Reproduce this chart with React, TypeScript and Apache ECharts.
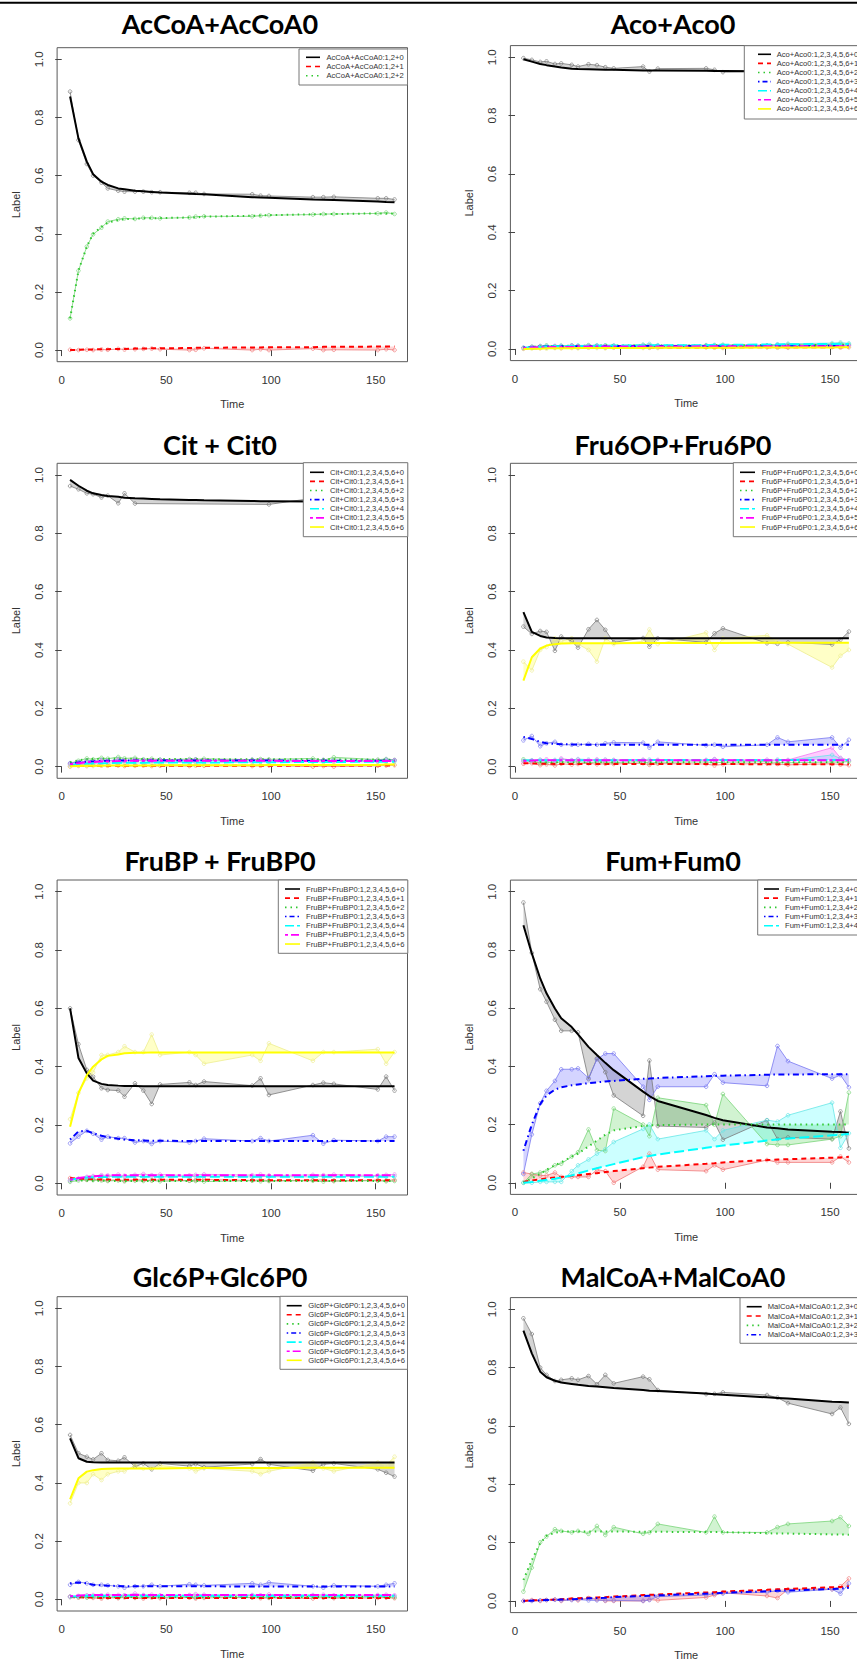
import React, { useEffect, useRef } from "react";
import * as echarts from "echarts";

// ---------------- data ----------------
const TIME = [4, 8, 12, 15, 19, 22, 27, 30, 35, 39, 43, 47, 61, 64, 68, 91, 95, 99, 120, 125, 130, 151, 155, 159];
const X_TICKS = [0, 50, 100, 150];
const Y_TICKS = [0, 0.2, 0.4, 0.6, 0.8, 1.0];

const TITLES = ["AcCoA+AcCoA0", "Aco+Aco0", "Cit + Cit0", "Fru6OP+Fru6P0", "FruBP + FruBP0", "Fum+Fum0", "Glc6P+Glc6P0", "MalCoA+MalCoA0"];
const LEGEND_PREFIXES = ["AcCoA+AcCoA0:1,2", "Aco+Aco0:1,2,3,4,5,6", "Cit+Cit0:1,2,3,4,5,6", "Fru6P+Fru6P0:1,2,3,4,5,6", "FruBP+FruBP0:1,2,3,4,5,6", "Fum+Fum0:1,2,3,4", "Glc6P+Glc6P0:1,2,3,4,5,6", "MalCoA+MalCoA0:1,2,3"];

// AcCoA
const accoaObs0 = [0.889, 0.722, 0.64, 0.6, 0.576, 0.556, 0.548, 0.545, 0.545, 0.545, 0.543, 0.543, 0.541, 0.541, 0.537, 0.536, 0.531, 0.53, 0.526, 0.526, 0.527, 0.522, 0.522, 0.518];
const accoaFit0 = [0.872, 0.728, 0.648, 0.605, 0.579, 0.568, 0.556, 0.553, 0.548, 0.546, 0.544, 0.542, 0.538, 0.537, 0.536, 0.526, 0.525, 0.524, 0.518, 0.517, 0.516, 0.511, 0.509, 0.508];
const accoaObs1 = [0.001, 0.0, 0.001, 0.0, 0.002, 0.001, 0.004, 0.002, 0.003, 0.004, 0.005, 0.003, 0.0, 0.001, 0.006, 0.0, 0.003, 0.0, 0.005, 0.0, 0.001, 0.0, 0.003, 0.0];
const accoaFit1 = [0.0, 0.001, 0.002, 0.002, 0.003, 0.003, 0.004, 0.004, 0.005, 0.005, 0.006, 0.006, 0.007, 0.008, 0.008, 0.009, 0.009, 0.01, 0.01, 0.011, 0.011, 0.012, 0.012, 0.012];
const accoaObs2 = [0.109, 0.273, 0.356, 0.398, 0.421, 0.442, 0.45, 0.453, 0.451, 0.455, 0.455, 0.453, 0.456, 0.459, 0.46, 0.46, 0.462, 0.464, 0.466, 0.468, 0.468, 0.47, 0.473, 0.468];
const accoaFit2 = [0.109, 0.273, 0.356, 0.4, 0.424, 0.438, 0.447, 0.45, 0.452, 0.453, 0.453, 0.454, 0.456, 0.456, 0.459, 0.462, 0.463, 0.464, 0.467, 0.467, 0.468, 0.47, 0.47, 0.47];

// Aco
const acoObs0 = [0.997, 0.991, 0.984, 0.986, 0.977, 0.979, 0.974, 0.968, 0.976, 0.973, 0.966, 0.962, 0.968, 0.951, 0.961, 0.962, 0.957, 0.949, 0.951, 0.95, 0.952, 0.948, 0.95, 0.947];
const acoFit0 = [0.993, 0.985, 0.977, 0.973, 0.968, 0.965, 0.961, 0.96, 0.959, 0.958, 0.957, 0.957, 0.955, 0.955, 0.955, 0.954, 0.953, 0.953, 0.952, 0.952, 0.952, 0.951, 0.951, 0.951];
const acoObs1 = [0.002, 0.004, 0.003, 0.005, 0.004, 0.003, 0.006, 0.004, 0.005, 0.006, 0.004, 0.005, 0.006, 0.004, 0.005, 0.006, 0.005, 0.004, 0.006, 0.005, 0.004, 0.007, 0.005, 0.006];
const acoFit1 = [0.002, 0.002, 0.003, 0.003, 0.003, 0.003, 0.004, 0.004, 0.004, 0.004, 0.004, 0.004, 0.005, 0.005, 0.005, 0.005, 0.005, 0.005, 0.006, 0.006, 0.006, 0.006, 0.006, 0.006];
const acoObs2 = [0.003, 0.008, 0.01, 0.012, 0.009, 0.011, 0.012, 0.01, 0.013, 0.011, 0.012, 0.01, 0.014, 0.012, 0.011, 0.013, 0.012, 0.014, 0.012, 0.013, 0.015, 0.016, 0.018, 0.015];
const acoFit2 = [0.004, 0.007, 0.008, 0.009, 0.01, 0.01, 0.011, 0.011, 0.011, 0.011, 0.012, 0.012, 0.012, 0.012, 0.012, 0.012, 0.013, 0.013, 0.013, 0.013, 0.013, 0.014, 0.014, 0.014];
const acoObs3 = [0.004, 0.006, 0.009, 0.007, 0.01, 0.008, 0.011, 0.009, 0.008, 0.01, 0.009, 0.011, 0.01, 0.008, 0.01, 0.011, 0.009, 0.01, 0.012, 0.014, 0.011, 0.013, 0.01, 0.012];
const acoFit3 = [0.005, 0.007, 0.008, 0.008, 0.009, 0.009, 0.009, 0.009, 0.009, 0.009, 0.009, 0.01, 0.01, 0.01, 0.01, 0.01, 0.01, 0.01, 0.011, 0.011, 0.011, 0.011, 0.011, 0.011];
const acoObs4 = [0.003, 0.006, 0.008, 0.01, 0.009, 0.011, 0.01, 0.012, 0.011, 0.013, 0.012, 0.011, 0.014, 0.017, 0.013, 0.012, 0.014, 0.013, 0.012, 0.016, 0.018, 0.02, 0.022, 0.019];
const acoFit4 = [0.004, 0.006, 0.007, 0.008, 0.009, 0.009, 0.01, 0.01, 0.011, 0.011, 0.011, 0.012, 0.012, 0.012, 0.013, 0.013, 0.014, 0.014, 0.015, 0.015, 0.016, 0.017, 0.017, 0.017];
const acoObs5 = [0.002, 0.005, 0.007, 0.006, 0.008, 0.007, 0.009, 0.008, 0.01, 0.008, 0.009, 0.008, 0.009, 0.01, 0.008, 0.009, 0.01, 0.008, 0.009, 0.01, 0.008, 0.011, 0.009, 0.01];
const acoFit5 = [0.003, 0.005, 0.006, 0.006, 0.007, 0.007, 0.007, 0.008, 0.008, 0.008, 0.008, 0.008, 0.008, 0.008, 0.008, 0.009, 0.009, 0.009, 0.009, 0.009, 0.009, 0.009, 0.009, 0.009];
const acoObs6 = [0.0, 0.001, 0.002, 0.001, 0.003, 0.002, 0.003, 0.002, 0.004, 0.003, 0.002, 0.004, 0.003, 0.004, 0.003, 0.005, 0.004, 0.003, 0.005, 0.004, 0.006, 0.005, 0.007, 0.006];
const acoFit6 = [0.0, 0.001, 0.001, 0.002, 0.002, 0.002, 0.002, 0.003, 0.003, 0.003, 0.003, 0.003, 0.003, 0.004, 0.004, 0.004, 0.004, 0.004, 0.005, 0.005, 0.005, 0.005, 0.006, 0.006];

// Cit
const citObs0 = [0.962, 0.951, 0.937, 0.934, 0.923, 0.929, 0.903, 0.937, 0.902, null, null, null, null, null, null, null, null, 0.899, 0.92, 0.926, 0.91, 0.905, 0.91, 0.9];
const citFit0 = [0.983, 0.963, 0.946, 0.937, 0.931, 0.928, 0.925, 0.922, 0.92, 0.919, 0.918, 0.917, 0.914, 0.914, 0.913, 0.911, 0.91, 0.91, 0.909, 0.909, 0.909, 0.907, 0.907, 0.907];
const citObs1 = [0.0, 0.003, 0.002, 0.005, 0.004, 0.003, 0.004, 0.002, 0.003, 0.004, 0.002, 0.003, 0.002, 0.004, 0.003, 0.002, 0.003, 0.004, 0.0, 0.002, 0.0, 0.003, 0.004, 0.005];
const citFit1 = [0.002, 0.003, 0.003, 0.003, 0.003, 0.003, 0.003, 0.003, 0.003, 0.003, 0.003, 0.003, 0.003, 0.003, 0.003, 0.003, 0.003, 0.003, 0.004, 0.004, 0.004, 0.004, 0.004, 0.004];
const citObs2 = [0.01, 0.02, 0.028, 0.025, 0.03, 0.027, 0.033, 0.028, 0.03, 0.025, 0.027, 0.024, 0.026, 0.025, 0.027, 0.024, 0.026, 0.025, 0.028, 0.022, 0.032, 0.024, 0.026, 0.023];
const citFit2 = [0.015, 0.022, 0.025, 0.026, 0.027, 0.027, 0.027, 0.027, 0.027, 0.026, 0.026, 0.026, 0.026, 0.026, 0.025, 0.025, 0.025, 0.025, 0.025, 0.025, 0.025, 0.024, 0.024, 0.024];
const citObs3 = [0.012, 0.015, 0.02, 0.018, 0.022, 0.02, 0.024, 0.021, 0.023, 0.022, 0.021, 0.023, 0.022, 0.024, 0.021, 0.023, 0.022, 0.021, 0.02, 0.023, 0.021, 0.019, 0.024, 0.022];
const citFit3 = [0.01, 0.014, 0.017, 0.018, 0.02, 0.02, 0.021, 0.021, 0.021, 0.021, 0.021, 0.021, 0.021, 0.021, 0.021, 0.021, 0.021, 0.021, 0.02, 0.02, 0.02, 0.02, 0.02, 0.02];
const citObs4 = [0.005, 0.008, 0.01, 0.012, 0.011, 0.013, 0.012, 0.014, 0.013, 0.012, 0.014, 0.013, 0.015, 0.014, 0.013, 0.015, 0.016, 0.015, 0.017, 0.015, 0.018, 0.016, 0.02, 0.018];
const citFit4 = [0.006, 0.008, 0.01, 0.011, 0.012, 0.012, 0.013, 0.013, 0.013, 0.013, 0.014, 0.014, 0.014, 0.014, 0.014, 0.015, 0.015, 0.015, 0.016, 0.016, 0.016, 0.017, 0.017, 0.017];
const citObs5 = [0.008, 0.012, 0.015, 0.017, 0.019, 0.018, 0.022, 0.02, 0.021, 0.02, 0.022, 0.021, 0.02, 0.022, 0.021, 0.02, 0.022, 0.021, 0.019, 0.02, 0.018, 0.02, 0.019, 0.021];
const citFit5 = [0.008, 0.012, 0.015, 0.016, 0.018, 0.018, 0.019, 0.02, 0.02, 0.02, 0.02, 0.02, 0.02, 0.02, 0.02, 0.02, 0.02, 0.02, 0.019, 0.019, 0.019, 0.019, 0.019, 0.019];
const citObs6 = [0.0, 0.002, 0.003, 0.002, 0.004, 0.003, 0.005, 0.004, 0.003, 0.005, 0.004, 0.006, 0.005, 0.004, 0.006, 0.005, 0.006, 0.007, 0.006, 0.005, 0.007, 0.006, 0.008, 0.007];
const citFit6 = [0.001, 0.002, 0.003, 0.003, 0.003, 0.004, 0.004, 0.004, 0.004, 0.004, 0.004, 0.005, 0.005, 0.005, 0.005, 0.005, 0.005, 0.006, 0.006, 0.006, 0.006, 0.006, 0.007, 0.007];

// Fru6P
const fru6Obs0 = [0.48, 0.455, 0.465, 0.462, 0.397, 0.446, 0.43, 0.408, 0.471, 0.503, 0.469, 0.426, 0.441, 0.411, 0.44, 0.426, 0.457, 0.474, 0.423, 0.421, 0.426, 0.419, 0.435, 0.463];
const fru6Fit0 = [0.53, 0.462, 0.448, 0.443, 0.441, 0.44, 0.44, 0.44, 0.44, 0.44, 0.44, 0.44, 0.44, 0.44, 0.44, 0.44, 0.44, 0.44, 0.44, 0.44, 0.44, 0.44, 0.44, 0.44];
const fru6Obs1 = [0.01, 0.012, 0.005, 0.008, 0.004, 0.01, 0.007, 0.009, 0.012, 0.008, 0.01, 0.009, 0.012, 0.006, 0.01, 0.009, 0.004, 0.008, 0.011, 0.009, 0.006, 0.01, 0.007, 0.005];
const fru6Fit1 = [0.012, 0.011, 0.01, 0.01, 0.009, 0.009, 0.009, 0.009, 0.009, 0.009, 0.009, 0.009, 0.009, 0.009, 0.009, 0.009, 0.009, 0.009, 0.008, 0.008, 0.008, 0.008, 0.008, 0.008];
const fru6Obs2 = [0.025, 0.02, 0.012, 0.015, 0.014, 0.016, 0.015, 0.017, 0.013, 0.016, 0.015, 0.014, 0.017, 0.012, 0.015, 0.016, 0.013, 0.015, 0.017, 0.014, 0.013, 0.016, 0.015, 0.018];
const fru6Fit2 = [0.022, 0.018, 0.016, 0.015, 0.015, 0.015, 0.015, 0.015, 0.015, 0.015, 0.015, 0.015, 0.015, 0.015, 0.015, 0.015, 0.015, 0.015, 0.015, 0.015, 0.015, 0.015, 0.015, 0.015];
const fru6Obs3 = [0.09, 0.105, 0.07, 0.08, 0.085, 0.075, 0.075, 0.075, 0.078, 0.075, 0.08, 0.083, 0.082, 0.065, 0.085, 0.073, 0.075, 0.068, 0.075, 0.1, 0.085, 0.1, 0.065, 0.092];
const fru6Fit3 = [0.102, 0.095, 0.085, 0.08, 0.078, 0.077, 0.076, 0.076, 0.075, 0.075, 0.075, 0.075, 0.075, 0.075, 0.075, 0.075, 0.075, 0.075, 0.075, 0.075, 0.075, 0.075, 0.075, 0.075];
const fru6Obs4 = [0.02, 0.022, 0.024, 0.02, 0.023, 0.025, 0.022, 0.026, 0.024, 0.022, 0.024, 0.023, 0.022, 0.024, 0.021, 0.023, 0.025, 0.022, 0.02, 0.024, 0.022, 0.04, 0.028, 0.022];
const fru6Fit4 = [0.021, 0.022, 0.022, 0.022, 0.022, 0.022, 0.022, 0.022, 0.022, 0.022, 0.022, 0.022, 0.023, 0.023, 0.023, 0.023, 0.023, 0.023, 0.023, 0.023, 0.023, 0.023, 0.023, 0.023];
const fru6Obs5 = [0.018, 0.02, 0.022, 0.025, 0.02, 0.028, 0.022, 0.024, 0.021, 0.025, 0.023, 0.022, 0.024, 0.02, 0.023, 0.022, 0.026, 0.022, 0.024, 0.021, 0.023, 0.065, 0.03, 0.022];
const fru6Fit5 = [0.02, 0.021, 0.022, 0.022, 0.022, 0.022, 0.022, 0.022, 0.022, 0.022, 0.022, 0.022, 0.022, 0.022, 0.022, 0.022, 0.022, 0.022, 0.022, 0.022, 0.022, 0.022, 0.022, 0.022];
const fru6Obs6 = [0.36, 0.33, 0.4, 0.41, 0.44, 0.43, 0.44, 0.42, 0.4, 0.36, 0.44, 0.42, 0.43, 0.47, 0.42, 0.46, 0.4, 0.44, 0.45, 0.43, 0.42, 0.34, 0.38, 0.4];
const fru6Fit6 = [0.295, 0.375, 0.405, 0.415, 0.42, 0.422, 0.423, 0.423, 0.423, 0.423, 0.423, 0.423, 0.424, 0.424, 0.424, 0.424, 0.424, 0.424, 0.425, 0.425, 0.425, 0.425, 0.425, 0.425];

// FruBP
const frubpObs0 = [0.6, 0.477, 0.389, 0.366, 0.326, 0.32, 0.318, 0.297, 0.343, 0.318, 0.272, 0.339, 0.346, 0.337, 0.349, 0.335, 0.36, 0.303, 0.337, 0.345, 0.341, 0.322, 0.366, 0.318];
const frubpFit0 = [0.6, 0.43, 0.377, 0.352, 0.341, 0.337, 0.335, 0.334, 0.334, 0.333, 0.333, 0.333, 0.333, 0.333, 0.333, 0.333, 0.333, 0.333, 0.333, 0.333, 0.333, 0.333, 0.333, 0.333];
const frubpObs1 = [0.018, 0.015, 0.012, 0.014, 0.013, 0.01, 0.012, 0.009, 0.013, 0.011, 0.01, 0.012, 0.009, 0.011, 0.013, 0.01, 0.012, 0.009, 0.011, 0.012, 0.008, 0.011, 0.01, 0.012];
const frubpFit1 = [0.018, 0.016, 0.015, 0.014, 0.013, 0.013, 0.012, 0.012, 0.012, 0.012, 0.012, 0.012, 0.012, 0.012, 0.012, 0.011, 0.011, 0.011, 0.011, 0.011, 0.011, 0.011, 0.011, 0.011];
const frubpObs2 = [0.005, 0.01, 0.012, 0.011, 0.01, 0.008, 0.01, 0.007, 0.009, 0.008, 0.01, 0.007, 0.009, 0.008, 0.006, 0.009, 0.007, 0.008, 0.009, 0.006, 0.008, 0.009, 0.007, 0.008];
const frubpFit2 = [0.008, 0.01, 0.01, 0.009, 0.009, 0.008, 0.008, 0.008, 0.008, 0.008, 0.008, 0.008, 0.008, 0.008, 0.008, 0.008, 0.008, 0.008, 0.008, 0.008, 0.008, 0.008, 0.008, 0.008];
const frubpObs3 = [0.137, 0.16, 0.18, 0.17, 0.15, 0.16, 0.155, 0.155, 0.14, 0.145, 0.135, 0.145, 0.14, 0.145, 0.153, 0.145, 0.155, 0.145, 0.165, 0.136, 0.148, 0.145, 0.16, 0.16];
const frubpFit3 = [0.15, 0.178, 0.18, 0.172, 0.163, 0.158, 0.153, 0.15, 0.148, 0.147, 0.146, 0.146, 0.145, 0.145, 0.145, 0.145, 0.145, 0.145, 0.145, 0.145, 0.145, 0.145, 0.145, 0.145];
const frubpObs4 = [0.01, 0.015, 0.02, 0.022, 0.024, 0.023, 0.025, 0.022, 0.024, 0.023, 0.025, 0.022, 0.024, 0.023, 0.025, 0.022, 0.024, 0.023, 0.022, 0.024, 0.023, 0.025, 0.022, 0.024];
const frubpFit4 = [0.012, 0.017, 0.02, 0.021, 0.022, 0.022, 0.023, 0.023, 0.023, 0.023, 0.023, 0.023, 0.023, 0.023, 0.023, 0.023, 0.023, 0.023, 0.023, 0.023, 0.023, 0.023, 0.023, 0.023];
const frubpObs5 = [0.01, 0.015, 0.022, 0.025, 0.028, 0.027, 0.03, 0.026, 0.029, 0.032, 0.028, 0.03, 0.027, 0.029, 0.031, 0.028, 0.03, 0.027, 0.029, 0.028, 0.03, 0.027, 0.029, 0.03];
const frubpFit5 = [0.012, 0.018, 0.022, 0.024, 0.026, 0.027, 0.028, 0.028, 0.028, 0.028, 0.028, 0.028, 0.028, 0.028, 0.028, 0.028, 0.028, 0.028, 0.028, 0.028, 0.028, 0.028, 0.028, 0.028];
const frubpObs6 = [0.22, 0.31, 0.36, 0.38, 0.44, 0.44, 0.45, 0.47, 0.45, 0.45, 0.51, 0.44, 0.45, 0.44, 0.41, 0.44, 0.42, 0.48, 0.42, 0.45, 0.45, 0.46, 0.41, 0.45];
const frubpFit6 = [0.194, 0.309, 0.371, 0.4, 0.425, 0.437, 0.442, 0.446, 0.448, 0.448, 0.449, 0.449, 0.449, 0.449, 0.449, 0.449, 0.449, 0.449, 0.449, 0.449, 0.449, 0.449, 0.449, 0.449];

// Fum
const fumObs0 = [0.963, 0.79, 0.665, 0.622, 0.56, 0.522, 0.522, 0.517, 0.356, 0.427, 0.38, 0.3, 0.23, 0.42, 0.195, 0.19, 0.207, 0.148, 0.215, 0.15, 0.156, 0.15, 0.245, 0.118];
const fumFit0 = [0.885, 0.788, 0.702, 0.651, 0.599, 0.565, 0.535, 0.51, 0.467, 0.439, 0.412, 0.387, 0.313, 0.298, 0.281, 0.233, 0.223, 0.215, 0.19, 0.187, 0.183, 0.175, 0.174, 0.172];
const fumObs1 = [0.035, 0.03, 0.025, 0.025, 0.035, 0.02, 0.02, 0.02, 0.02, 0.045, 0.04, 0.0, 0.055, 0.1, 0.045, 0.04, 0.06, 0.045, 0.078, 0.07, 0.07, 0.07, 0.09, 0.07];
const fumFit1 = [0.003, 0.008, 0.012, 0.015, 0.018, 0.02, 0.024, 0.026, 0.03, 0.033, 0.037, 0.04, 0.05, 0.052, 0.055, 0.065, 0.067, 0.07, 0.078, 0.08, 0.081, 0.086, 0.087, 0.089];
const fumObs2 = [0.0, 0.03, 0.035, 0.04, 0.06, 0.065, 0.09, 0.105, 0.183, 0.112, 0.109, 0.255, 0.2, 0.16, 0.292, 0.267, 0.2, 0.305, 0.133, 0.13, 0.13, 0.15, 0.16, 0.31];
const fumFit2 = [0.0, 0.015, 0.03, 0.045, 0.06, 0.07, 0.09, 0.1, 0.125, 0.145, 0.165, 0.18, 0.195, 0.197, 0.198, 0.2, 0.2, 0.2, 0.2, 0.2, 0.2, 0.2, 0.2, 0.2];
const fumObs3 = [0.03, 0.166, 0.273, 0.316, 0.35, 0.39, 0.39, 0.393, 0.36, 0.424, 0.444, 0.444, 0.33, 0.285, 0.33, 0.33, 0.373, 0.344, 0.333, 0.47, 0.418, 0.358, 0.37, 0.328];
const fumFit3 = [0.11, 0.2, 0.27, 0.3, 0.32, 0.328, 0.335, 0.338, 0.342, 0.345, 0.348, 0.35, 0.357, 0.358, 0.36, 0.366, 0.367, 0.368, 0.371, 0.372, 0.372, 0.373, 0.373, 0.373];
const fumObs4 = [0.0, 0.0, 0.003, 0.003, 0.003, 0.003, 0.04, 0.06, 0.08, 0.1, 0.115, 0.14, 0.185, 0.2, 0.15, 0.18, 0.15, 0.18, 0.215, 0.21, 0.232, 0.275, 0.12, 0.17];
const fumFit4 = [0.0, 0.003, 0.007, 0.01, 0.014, 0.018, 0.025, 0.032, 0.042, 0.05, 0.057, 0.064, 0.088, 0.092, 0.097, 0.12, 0.124, 0.128, 0.145, 0.149, 0.152, 0.163, 0.165, 0.168];

// Glc6P
const glcObs0 = [0.565, 0.502, 0.49, 0.481, 0.502, 0.479, 0.476, 0.488, 0.456, 0.467, 0.447, 0.467, 0.458, 0.465, 0.454, 0.465, 0.482, 0.464, 0.442, 0.464, 0.467, 0.447, 0.435, 0.422];
const glcFit0 = [0.553, 0.485, 0.473, 0.471, 0.47, 0.47, 0.47, 0.47, 0.47, 0.47, 0.47, 0.47, 0.47, 0.47, 0.47, 0.47, 0.47, 0.47, 0.47, 0.47, 0.47, 0.47, 0.47, 0.47];
const glcObs1 = [0.008, 0.006, 0.008, 0.005, 0.003, 0.006, 0.004, 0.007, 0.005, 0.003, 0.006, 0.004, 0.006, 0.003, 0.005, 0.006, 0.004, 0.005, 0.003, 0.006, 0.004, 0.005, 0.006, 0.004];
const glcFit1 = [0.008, 0.007, 0.006, 0.006, 0.005, 0.005, 0.005, 0.005, 0.005, 0.005, 0.005, 0.005, 0.005, 0.005, 0.005, 0.005, 0.005, 0.005, 0.005, 0.005, 0.005, 0.005, 0.005, 0.005];
const glcObs2 = [0.01, 0.008, 0.006, 0.009, 0.007, 0.008, 0.006, 0.009, 0.007, 0.008, 0.01, 0.007, 0.008, 0.006, 0.009, 0.007, 0.008, 0.006, 0.009, 0.008, 0.007, 0.009, 0.008, 0.007];
const glcFit2 = [0.009, 0.008, 0.008, 0.008, 0.008, 0.008, 0.008, 0.008, 0.008, 0.008, 0.008, 0.008, 0.008, 0.008, 0.008, 0.008, 0.008, 0.008, 0.008, 0.008, 0.008, 0.008, 0.008, 0.008];
const glcObs3 = [0.05, 0.06, 0.055, 0.05, 0.05, 0.048, 0.045, 0.04, 0.045, 0.045, 0.05, 0.045, 0.052, 0.05, 0.048, 0.055, 0.05, 0.058, 0.045, 0.04, 0.048, 0.045, 0.05, 0.055];
const glcFit3 = [0.055, 0.058, 0.055, 0.05, 0.048, 0.047, 0.046, 0.045, 0.045, 0.045, 0.045, 0.045, 0.045, 0.045, 0.045, 0.044, 0.044, 0.044, 0.044, 0.044, 0.044, 0.044, 0.044, 0.044];
const glcObs4 = [0.008, 0.01, 0.012, 0.011, 0.013, 0.012, 0.011, 0.013, 0.012, 0.014, 0.011, 0.012, 0.013, 0.011, 0.012, 0.014, 0.012, 0.011, 0.013, 0.012, 0.011, 0.013, 0.012, 0.011];
const glcFit4 = [0.009, 0.011, 0.012, 0.012, 0.012, 0.012, 0.012, 0.012, 0.012, 0.012, 0.012, 0.012, 0.012, 0.012, 0.012, 0.012, 0.012, 0.012, 0.012, 0.012, 0.012, 0.012, 0.012, 0.012];
const glcObs5 = [0.01, 0.012, 0.014, 0.015, 0.013, 0.016, 0.015, 0.014, 0.02, 0.015, 0.016, 0.014, 0.015, 0.018, 0.016, 0.015, 0.014, 0.017, 0.015, 0.016, 0.014, 0.015, 0.016, 0.014];
const glcFit5 = [0.011, 0.013, 0.014, 0.015, 0.015, 0.015, 0.015, 0.015, 0.015, 0.015, 0.015, 0.015, 0.015, 0.015, 0.015, 0.015, 0.015, 0.015, 0.015, 0.015, 0.015, 0.015, 0.015, 0.015];
const glcObs6 = [0.33, 0.4, 0.4, 0.43, 0.41, 0.43, 0.44, 0.44, 0.46, 0.45, 0.45, 0.46, 0.45, 0.44, 0.45, 0.44, 0.43, 0.44, 0.47, 0.45, 0.44, 0.47, 0.46, 0.49];
const glcFit6 = [0.344, 0.416, 0.439, 0.444, 0.448, 0.449, 0.45, 0.45, 0.45, 0.45, 0.45, 0.45, 0.451, 0.451, 0.451, 0.451, 0.451, 0.451, 0.452, 0.452, 0.452, 0.452, 0.452, 0.452];

// MalCoA
const malObs0 = [0.969, 0.915, 0.8, 0.775, 0.754, 0.758, 0.763, 0.758, 0.771, 0.743, 0.775, 0.746, 0.769, 0.76, 0.723, 0.709, 0.71, 0.715, 0.706, 0.697, 0.678, 0.641, 0.663, 0.607];
const malFit0 = [0.927, 0.849, 0.786, 0.767, 0.755, 0.749, 0.744, 0.741, 0.737, 0.735, 0.733, 0.73, 0.723, 0.721, 0.72, 0.711, 0.709, 0.707, 0.698, 0.696, 0.694, 0.683, 0.682, 0.68];
const malObs1 = [0.0, 0.003, 0.0, 0.003, 0.005, 0.0, 0.005, 0.002, 0.01, 0.005, 0.0, 0.0, 0.0, 0.005, 0.002, 0.012, 0.02, 0.028, 0.017, 0.01, 0.04, 0.04, 0.05, 0.077];
const malFit1 = [0.0, 0.002, 0.003, 0.004, 0.005, 0.006, 0.008, 0.009, 0.011, 0.012, 0.013, 0.015, 0.02, 0.021, 0.022, 0.029, 0.03, 0.032, 0.038, 0.04, 0.041, 0.047, 0.048, 0.05];
const malObs2 = [0.032, 0.114, 0.201, 0.221, 0.246, 0.24, 0.235, 0.24, 0.23, 0.257, 0.226, 0.253, 0.23, 0.235, 0.264, 0.235, 0.289, 0.235, 0.235, 0.253, 0.264, 0.274, 0.287, 0.257];
const malFit2 = [0.072, 0.14, 0.198, 0.223, 0.234, 0.238, 0.238, 0.238, 0.238, 0.238, 0.238, 0.238, 0.237, 0.237, 0.237, 0.236, 0.236, 0.236, 0.232, 0.231, 0.231, 0.228, 0.228, 0.227];
const malObs3 = [0.0, 0.0, 0.002, 0.003, 0.004, 0.002, 0.003, 0.005, 0.002, 0.002, 0.002, 0.002, 0.0, 0.003, 0.015, 0.02, 0.025, 0.025, 0.03, 0.035, 0.03, 0.04, 0.025, 0.06];
const malFit3 = [0.0, 0.001, 0.002, 0.003, 0.004, 0.005, 0.006, 0.007, 0.009, 0.01, 0.011, 0.013, 0.017, 0.018, 0.019, 0.025, 0.026, 0.028, 0.033, 0.035, 0.036, 0.041, 0.042, 0.045];

const PANEL_OBS: (number | null)[][][] = [
  [accoaObs0, accoaObs1, accoaObs2],
  [acoObs0, acoObs1, acoObs2, acoObs3, acoObs4, acoObs5, acoObs6],
  [citObs0, citObs1, citObs2, citObs3, citObs4, citObs5, citObs6],
  [fru6Obs0, fru6Obs1, fru6Obs2, fru6Obs3, fru6Obs4, fru6Obs5, fru6Obs6],
  [frubpObs0, frubpObs1, frubpObs2, frubpObs3, frubpObs4, frubpObs5, frubpObs6],
  [fumObs0, fumObs1, fumObs2, fumObs3, fumObs4],
  [glcObs0, glcObs1, glcObs2, glcObs3, glcObs4, glcObs5, glcObs6],
  [malObs0, malObs1, malObs2, malObs3],
];
const PANEL_FIT: number[][][] = [
  [accoaFit0, accoaFit1, accoaFit2],
  [acoFit0, acoFit1, acoFit2, acoFit3, acoFit4, acoFit5, acoFit6],
  [citFit0, citFit1, citFit2, citFit3, citFit4, citFit5, citFit6],
  [fru6Fit0, fru6Fit1, fru6Fit2, fru6Fit3, fru6Fit4, fru6Fit5, fru6Fit6],
  [frubpFit0, frubpFit1, frubpFit2, frubpFit3, frubpFit4, frubpFit5, frubpFit6],
  [fumFit0, fumFit1, fumFit2, fumFit3, fumFit4],
  [glcFit0, glcFit1, glcFit2, glcFit3, glcFit4, glcFit5, glcFit6],
  [malFit0, malFit1, malFit2, malFit3],
];

// ---------------- styles / layout ----------------
const FIT_COLORS = ["#000000", "#ff0000", "#2ec82e", "#0000ff", "#00ffff", "#ff00ff", "#ffff00"];
const OBS_COLORS = ["#7a7a7a", "#f07878", "#78d478", "#7878f0", "#66e6e6", "#f078f0", "#eeee90"];
const FILL_COLORS = ["rgba(0,0,0,0.17)", "rgba(255,0,0,0.16)", "rgba(0,190,0,0.18)", "rgba(0,0,255,0.17)", "rgba(0,255,255,0.2)", "rgba(255,0,255,0.2)", "rgba(255,255,0,0.22)"];
const LINE_TYPES: any[] = ["solid", [5, 4], [1.5, 4], [1.5, 3.5, 6, 3.5], [10, 4], [3, 3, 9, 3], "solid"];
const LEGEND_DASH: any[] = [null, [5, 4], [1.5, 4], [1.5, 3, 5, 3], [9, 3], [3, 3, 8, 3], null];

const X_MIN = -2.2;
const X_MAX = 165.2;
const Y_MIN = -0.04;
const Y_MAX = 1.04;

const GRID_BOXES = [
  { left: 57.1, top: 47.7, width: 350.4, height: 314 },
  { left: 510.4, top: 45.6, width: 351.5, height: 315 },
  { left: 57.1, top: 463.3, width: 350.4, height: 315 },
  { left: 510.4, top: 463.3, width: 351.5, height: 315 },
  { left: 57.1, top: 880, width: 350.4, height: 315 },
  { left: 510.4, top: 880.1, width: 351.5, height: 314.3 },
  { left: 57.1, top: 1296.7, width: 350.4, height: 314.3 },
  { left: 510.4, top: 1297.6, width: 351.5, height: 315 },
];
const TITLE_POS = [[220, 23], [673, 23], [220, 444], [673, 444], [220, 860], [673, 860], [220, 1276], [673, 1276]];
const LEGEND_BOXES = [
  { x: 299, y: 49, w: 108.5, h: 36, lx1: 306, lx2: 320, tx: 326.5, ry0: 57.3, dy: 9.2 },
  { x: 744.3, y: 45.7, w: 118, h: 73.3, lx1: 758, lx2: 771, tx: 776.7, ry0: 54.3, dy: 9.1 },
  { x: 303.3, y: 462.7, w: 104.5, h: 74, lx1: 310, lx2: 324, tx: 330, ry0: 472.3, dy: 9.12 },
  { x: 733.3, y: 462.7, w: 130, h: 74, lx1: 740, lx2: 755, tx: 761.7, ry0: 472.3, dy: 9.12 },
  { x: 278.3, y: 880, w: 129.5, h: 73.3, lx1: 285, lx2: 300, tx: 306, ry0: 889, dy: 9.17 },
  { x: 757.7, y: 880, w: 110, h: 55, lx1: 764, lx2: 779, tx: 785, ry0: 889, dy: 9.17 },
  { x: 280, y: 1296.3, w: 127.5, h: 73, lx1: 286.7, lx2: 301.7, tx: 308.3, ry0: 1305.7, dy: 9.1 },
  { x: 740, y: 1297.7, w: 125, h: 45.6, lx1: 746.7, lx2: 761.7, tx: 767.7, ry0: 1306.7, dy: 9.33 },
];
const SANS = "Liberation Sans";

function buildOption() {
  const series: any[] = [];
  PANEL_OBS.forEach((obsList, p) => {
    obsList.forEach((obs, k) => {
      const fit = PANEL_FIT[p][k];
      const name = `${LEGEND_PREFIXES[p]}+${k}`;
      // shaded band between observed and fitted
      series.push({
        type: "custom",
        name: name + " band",
        xAxisIndex: p,
        yAxisIndex: p,
        z: 1,
        silent: true,
        clip: true,
        data: TIME.map((t, i) => [t, obs[i] == null ? fit[i] : obs[i], fit[i]]),
        encode: { x: 0, y: [1, 2] },
        renderItem: (params: any, api: any) => {
          if (params.dataIndex !== 0) return null;
          const pts: number[][] = [];
          TIME.forEach((t, i) => {
            if (obs[i] != null) pts.push(api.coord([t, obs[i]]));
          });
          for (let i = TIME.length - 1; i >= 0; i--) pts.push(api.coord([TIME[i], fit[i]]));
          return { type: "polygon", shape: { points: pts }, style: { fill: FILL_COLORS[k], stroke: null } };
        },
      });
      // observed
      series.push({
        type: "line",
        name: name + " observed",
        xAxisIndex: p,
        yAxisIndex: p,
        z: 2,
        silent: true,
        connectNulls: true,
        data: TIME.map((t, i) => [t, obs[i]]),
        symbol: "circle",
        symbolSize: 3.6,
        showSymbol: true,
        lineStyle: { width: 0.8, color: OBS_COLORS[k] },
        itemStyle: { color: "rgba(255,255,255,0)", borderColor: OBS_COLORS[k], borderWidth: 0.7 },
      });
      // fitted
      series.push({
        type: "line",
        name,
        xAxisIndex: p,
        yAxisIndex: p,
        z: 3,
        silent: true,
        data: TIME.map((t, i) => [t, fit[i]]),
        symbol: "none",
        showSymbol: false,
        lineStyle: { width: 2, color: FIT_COLORS[k], type: LINE_TYPES[k] },
      });
    });
  });

  const graphics: any[] = [
    { type: "line", shape: { x1: 0, y1: 2.7, x2: 857, y2: 2.7 }, style: { stroke: "#000", lineWidth: 2 }, z: 100 },
  ];
  TITLES.forEach((t, p) => {
    graphics.push({
      type: "text",
      x: TITLE_POS[p][0],
      y: TITLE_POS[p][1],
      z: 100,
      style: { text: t, align: "center", verticalAlign: "middle", fontFamily: "Lato", fontWeight: "bold", fontSize: 27, fill: "#000" },
    });
  });
  LEGEND_BOXES.forEach((b, p) => {
    graphics.push({
      type: "rect",
      z: 100,
      shape: { x: b.x, y: b.y, width: b.w, height: b.h },
      style: { fill: "#fff", stroke: "#777", lineWidth: 1 },
    });
    PANEL_FIT[p].forEach((_, k) => {
      const y = b.ry0 + k * b.dy;
      graphics.push({
        type: "line",
        z: 101,
        shape: { x1: b.lx1, y1: y, x2: b.lx2, y2: y },
        style: { stroke: FIT_COLORS[k], lineWidth: 1.6, lineDash: LEGEND_DASH[k] || undefined },
      });
      graphics.push({
        type: "text",
        z: 101,
        x: b.tx,
        y,
        style: { text: `${LEGEND_PREFIXES[p]}+${k}`, align: "left", verticalAlign: "middle", fontFamily: SANS, fontSize: 7.6, fill: "#333" },
      });
    });
  });

  return {
    animation: false,
    backgroundColor: "#ffffff",
    textStyle: { fontFamily: SANS },
    grid: GRID_BOXES.map((g) => ({
      ...g,
      show: true,
      borderColor: "#5a5a5a",
      borderWidth: 1,
      backgroundColor: "transparent",
      containLabel: false,
      outerBoundsMode: "none",
    })),
    xAxis: GRID_BOXES.map((_, i) => ({
      gridIndex: i,
      type: "value",
      min: X_MIN,
      max: X_MAX,
      axisLine: { show: false },
      axisTick: { show: true, length: 6, customValues: X_TICKS, lineStyle: { color: "#444", width: 1 } },
      axisLabel: { customValues: X_TICKS, fontFamily: SANS, fontSize: 11.5, color: "#333", margin: 12 },
      splitLine: { show: false },
      name: "Time",
      nameLocation: "middle",
      nameGap: 37,
      nameTextStyle: { fontFamily: SANS, fontSize: 11, color: "#333" },
    })),
    yAxis: GRID_BOXES.map((_, i) => ({
      gridIndex: i,
      type: "value",
      min: Y_MIN,
      max: Y_MAX,
      axisLine: { show: false },
      axisTick: { show: true, length: 6.5, customValues: Y_TICKS, lineStyle: { color: "#444", width: 1 } },
      axisLabel: {
        customValues: Y_TICKS,
        rotate: 90,
        fontFamily: SANS,
        fontSize: 11.5,
        color: "#333",
        margin: 12,
        formatter: (v: number) => v.toFixed(1),
      },
      splitLine: { show: false },
      name: "Label",
      nameLocation: "middle",
      nameRotate: 90,
      nameGap: 36,
      nameTextStyle: { fontFamily: SANS, fontSize: 11, color: "#333" },
    })),
    series,
    graphic: { elements: graphics },
  };
}

export default function App() {
  const ref = useRef<HTMLDivElement>(null);
  useEffect(() => {
    if (!ref.current) return;
    const chart = echarts.init(ref.current, null, { renderer: "svg" });
    chart.setOption(buildOption() as any);
    return () => chart.dispose();
  }, []);
  return (
    <div
      ref={ref}
      style={{ position: "absolute", left: 0, top: 0, width: 857, height: 1662, background: "#fff" }}
    />
  );
}
